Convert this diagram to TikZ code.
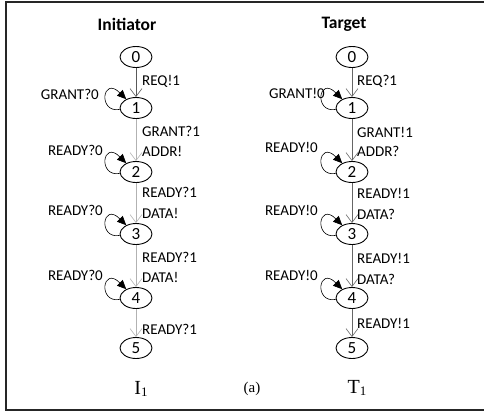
\documentclass[tikz,border=0pt]{standalone}
\usepackage{fontspec}
\setmainfont{Carlito}
\newfontfamily\capfont{Liberation Serif}
\usetikzlibrary{shapes.geometric,arrows.meta}
\begin{document}
\begin{tikzpicture}[x=1pt,y=-1pt,
  state/.style={ellipse,draw,line width=0.9pt,minimum width=32pt,minimum height=21pt,
    inner sep=0pt,font=\fontsize{17}{17}\selectfont},
  lbl/.style={font=\fontsize{15}{15}\selectfont,inner sep=0pt},
  heading/.style={font=\fontsize{17.5}{18}\selectfont\bfseries,inner sep=0pt},
  caption/.style={font=\capfont\fontsize{20}{20}\selectfont,inner sep=0pt},
  trans/.style={line width=0.6pt,-{Straight Barb[length=8pt,width=12pt,line width=0.6pt]}},
  selfloop/.style={line width=0.6pt,-{Triangle[length=9pt,width=8pt]}},
  frame/.style={line width=2pt,black!85},
]
\useasboundingbox (0,0) rectangle (484,415);

% outer frame (open on the right)
\draw[frame] (490,1.5) -- (6,1.5) -- (6,410) -- (490,410);

% ---------------- Initiator ----------------
\node[heading] (ti) at (127,24) {Initiator};
\node[state] (i0) at (136,57) {0};
\node[state] (i1) at (136,108) {1};
\node[state] (i2) at (136,172) {2};
\node[state] (i3) at (136,234) {3};
\node[state] (i4) at (136,298) {4};
\node[state] (i5) at (136,348) {5};

\draw[trans,black!65] (i0) -- (i1);
\draw[trans,black!30] (i1) -- (i2);
\draw[trans,black!30] (i2) -- (i3);
\draw[trans,black!30] (i3) -- (i4);
\draw[trans,black!30] (i4) -- (i5);

\foreach \n in {i1,i2,i3,i4}
  \draw[selfloop] (\n.185) .. controls +(-22,4) and +(-24,-24) .. (\n.138);

\node[lbl,anchor=west] (li01) at (142,81) {REQ!1};
\node[lbl,anchor=east] (li11) at (99,94) {GRANT?0};
\node[lbl,anchor=west] (li12a) at (142,131) {GRANT?1};
\node[lbl,anchor=west] (li12b) at (142,151) {ADDR!};
\node[lbl,anchor=east] (li22) at (103,150) {READY?0};
\node[lbl,anchor=west] (li23a) at (142,192) {READY?1};
\node[lbl,anchor=west] (li23b) at (142,213) {DATA!};
\node[lbl,anchor=east] (li33) at (103,210) {READY?0};
\node[lbl,anchor=west] (li34a) at (142,257) {READY?1};
\node[lbl,anchor=west] (li34b) at (142,277) {DATA!};
\node[lbl,anchor=east] (li44) at (103,275) {READY?0};
\node[lbl,anchor=west] (li45) at (142,329) {READY?1};

% ---------------- Target ----------------
\node[heading] (tt) at (344,24) {Target};
\node[state] (t0) at (352,57) {0};
\node[state] (t1) at (352,108) {1};
\node[state] (t2) at (352,172) {2};
\node[state] (t3) at (352,234) {3};
\node[state] (t4) at (352,298) {4};
\node[state] (t5) at (352,348) {5};

\draw[trans,black!60] (t0) -- (t1);
\draw[trans,black!60] (t1) -- (t2);
\draw[trans,black!60] (t2) -- (t3);
\draw[trans,black!60] (t3) -- (t4);
\draw[trans,black!60] (t4) -- (t5);

\foreach \n in {t1,t2,t3,t4}
  \draw[selfloop] (\n.185) .. controls +(-22,4) and +(-24,-24) .. (\n.138);

\node[lbl,anchor=west] (lt01) at (357,81) {REQ?1};
\node[lbl,anchor=east] (lt11) at (325,93) {GRANT!0};
\node[lbl,anchor=west] (lt12a) at (357,132) {GRANT!1};
\node[lbl,anchor=west] (lt12b) at (357,151) {ADDR?};
\node[lbl,anchor=east] (lt22) at (318,147) {READY!0};
\node[lbl,anchor=west] (lt23a) at (357,193) {READY!1};
\node[lbl,anchor=west] (lt23b) at (357,214) {DATA?};
\node[lbl,anchor=east] (lt33) at (318,210) {READY!0};
\node[lbl,anchor=west] (lt34a) at (357,258) {READY!1};
\node[lbl,anchor=west] (lt34b) at (357,279) {DATA?};
\node[lbl,anchor=east] (lt44) at (318,275) {READY!0};
\node[lbl,anchor=west] (lt45) at (357,323) {READY!1};

% ---------------- captions ----------------
\node[caption] (ci) at (141,389) {I\raisebox{-2.5pt}{\fontsize{13}{13}\selectfont 1}};
\node[caption,font=\capfont\fontsize{15}{15}\selectfont] (ca) at (252,389) {(a)};
\node[caption] (ct) at (357,388) {T\raisebox{-2.5pt}{\fontsize{13}{13}\selectfont 1}};
\end{tikzpicture}
\end{document}
